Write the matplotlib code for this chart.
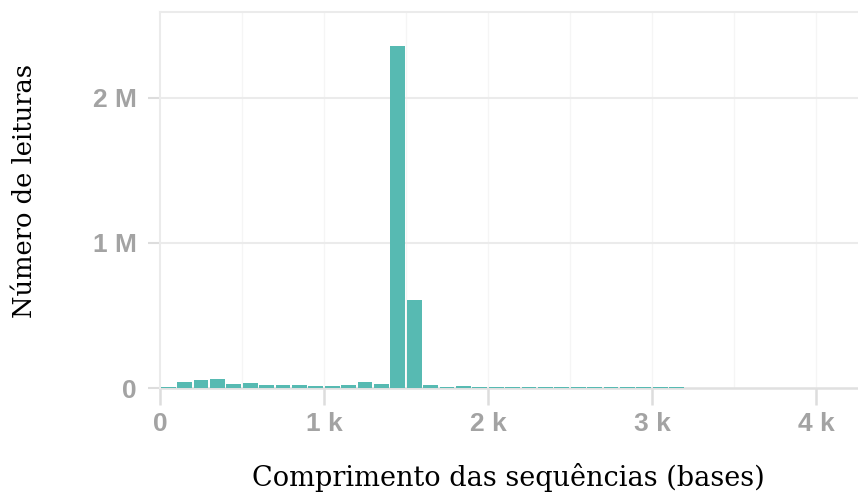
import matplotlib.pyplot as plt
import matplotlib as mpl
import numpy as np

# dados do histograma (bins de 100 bases)
bin_start = np.arange(0, 3300, 100)
leituras_M = [0.006, 0.040, 0.055, 0.062, 0.030, 0.032, 0.022, 0.020, 0.020, 0.017,
              0.017, 0.022, 0.040, 0.030, 2.36, 0.61, 0.018, 0.008, 0.014, 0.008,
              0.006, 0.006, 0.006, 0.006, 0.006, 0.010, 0.006, 0.006, 0.006, 0.010,
              0.006, 0.006, 0.003]
xticks = [0, 1000, 2000, 3000, 4000]
xtick_labels = ['0', '1 k', '2 k', '3 k', '4 k']
yticks = [0, 1e6, 2e6]
ytick_labels = ['0', '1 M', '2 M']

mpl.rcParams['font.family'] = ['Liberation Sans', 'DejaVu Sans']

fig = plt.figure(figsize=(8.58, 4.93), dpi=100)
ax = fig.add_axes([160/858, 1-388/493, 698/858, 376/493])

counts = np.array(leituras_M) * 1e6
ax.bar(bin_start + 5, counts, width=90, align='edge', color='#57bab2',
       linewidth=0, zorder=5)

ax.set_xlim(0, 4256)
ax.set_ylim(0, 2.593e6)

# grade
for xv in np.arange(500, 4256, 500):
    ax.axvline(xv, color='#f5f5f5', lw=1, zorder=1)
for yv in yticks[1:]:
    ax.axhline(yv, color='#ebebeb', lw=1.5, zorder=1)

ax.spines['right'].set_visible(False)
ax.spines['top'].set_color('#ebebeb')
ax.spines['top'].set_linewidth(1.5)
ax.spines['left'].set_color('#ebebeb')
ax.spines['left'].set_linewidth(1.5)
ax.spines['bottom'].set_color('#e0e0e0')
ax.spines['bottom'].set_linewidth(1.8)
ax.spines['bottom'].set_zorder(2)

ax.set_xticks(xticks)
ax.set_xticklabels(xtick_labels)
ax.set_yticks(yticks)
ax.set_yticklabels(ytick_labels)
ax.tick_params(axis='x', length=12, width=1.8, color='#dddddd', pad=5,
               labelsize=19, labelcolor='#a3a3a3')
ax.tick_params(axis='y', length=9, width=1.5, color='#dddddd', pad=8,
               labelsize=19, labelcolor='#a3a3a3')
for lab in ax.get_xticklabels() + ax.get_yticklabels():
    lab.set_fontweight('bold')

fig.text(508/858, 1-478/493, 'Comprimento das sequências (bases)', ha='center', va='center',
         fontsize=19.5, family=['DejaVu Serif'])
fig.text(25/858, 1-191/493, 'Número de leituras', ha='center', va='center', rotation=90,
         fontsize=18.5, family=['DejaVu Serif'])

fig.savefig('out.png', dpi=100)
